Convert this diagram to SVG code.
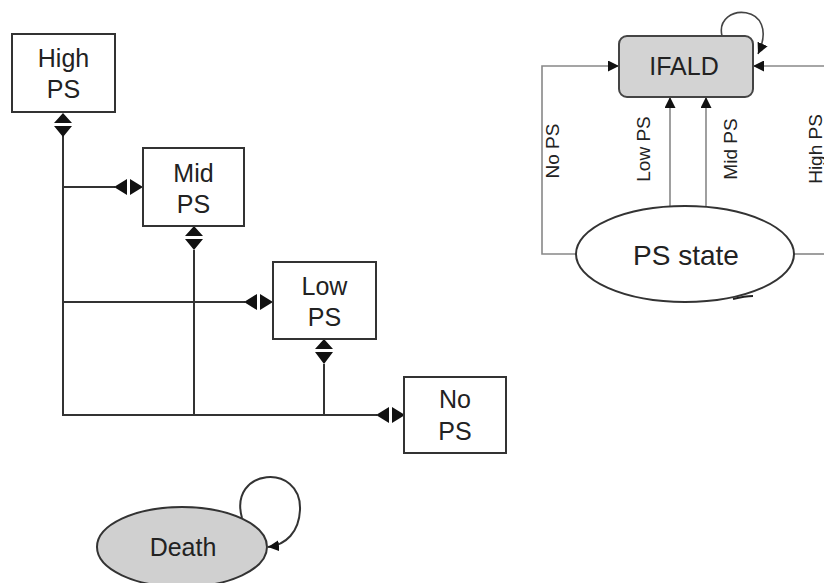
<svg xmlns="http://www.w3.org/2000/svg" width="824" height="583" viewBox="0 0 824 583">
<style>
.box{fill:#fff;stroke:#333;stroke-width:2}
.t{font-family:"Liberation Sans",Arial,sans-serif;fill:#222;text-anchor:middle}
.big{font-size:25px}
.lbl{font-size:19px}
.ln{fill:none;stroke:#333;stroke-width:2}
.gl{fill:none;stroke:#888;stroke-width:1.6}
.ah{fill:#111}
</style>
<defs>
<marker id="arr" viewBox="0 0 10 10" refX="10" refY="5" markerWidth="11" markerHeight="11" markerUnits="userSpaceOnUse" orient="auto">
<path d="M0 0 L10 5 L0 10 Z" fill="#111"/>
</marker>
</defs>
<rect width="824" height="583" fill="#fff"/>

<g id="connectors">
<path class="ln" d="M63 136 V415 H377 M63 187 H115 M194 250 V415 M63 302 H245 M324 364 V415"/>
<path class="ah" d="M63 113 L72 123 L54 123 Z M54 126 L72 126 L63 137 Z"/>
<path class="ah" d="M114 187 L127 179 L127 195 Z M130 179 L143 187 L130 195 Z"/>
<path class="ah" d="M194 226 L203 236 L185 236 Z M185 239 L203 239 L194 250 Z"/>
<path class="ah" d="M244 302 L257 294 L257 310 Z M260 294 L273 302 L260 310 Z"/>
<path class="ah" d="M324 339 L333 349 L315 349 Z M315 352 L333 352 L324 364 Z"/>
<path class="ah" d="M376 415 L389 407 L389 423 Z M392 407 L405 415 L392 423 Z"/>

<path class="gl" d="M576 254 H542 V66 H619" marker-end="url(#arr)"/>
<path class="gl" d="M670 206 V97" marker-end="url(#arr)"/>
<path class="gl" d="M706 207 V97" marker-end="url(#arr)"/>
<path class="gl" d="M824 66 H753" marker-end="url(#arr)"/>
<path class="gl" d="M794 254 H824"/>
<path fill="none" stroke="#444" stroke-width="1.6" d="M722 36 C714 2, 782 2, 758 54" marker-end="url(#arr)"/>
<path fill="none" stroke="#333" stroke-width="2" d="M242 518 C228 468, 302 462, 300 510 C299 532, 286 545, 268 547" marker-end="url(#arr)"/>
<text class="t lbl" transform="translate(559,151) rotate(-90)">No PS</text>
<text class="t lbl" transform="translate(650,149) rotate(-90)">Low PS</text>
<text class="t lbl" transform="translate(737,149) rotate(-90)">Mid PS</text>
<text class="t lbl" transform="translate(822,149) rotate(-90)">High PS</text>
</g>

<g id="high">
<rect class="box" x="12" y="34" width="103" height="78"/>
<text class="t big" x="63.5" y="67">High</text>
<text class="t big" x="63.5" y="98">PS</text>
</g>
<g id="mid">
<rect class="box" x="143" y="148" width="101" height="78"/>
<text class="t big" x="193.5" y="182">Mid</text>
<text class="t big" x="193.5" y="213">PS</text>
</g>
<g id="low">
<rect class="box" x="273" y="262" width="103" height="77"/>
<text class="t big" x="324.5" y="295">Low</text>
<text class="t big" x="324.5" y="326">PS</text>
</g>
<g id="no">
<rect class="box" x="404" y="377" width="102" height="76"/>
<text class="t big" x="455" y="408">No</text>
<text class="t big" x="455" y="440">PS</text>
</g>
<g id="ifald">
<rect x="619" y="36" width="134" height="61" rx="8" fill="#d3d3d3" stroke="#444" stroke-width="2"/>
<text class="t big" x="684" y="75">IFALD</text>
</g>
<g id="psstate">
<ellipse cx="685" cy="254" rx="109" ry="48" fill="#fff" stroke="#333" stroke-width="2"/>
<path d="M733 299 Q745 296 753 296" fill="none" stroke="#222" stroke-width="2"/>
<text class="t" x="686" y="265" font-size="28">PS state</text>
</g>
<g id="death">
<ellipse cx="182" cy="547" rx="85" ry="40" fill="#d0d0d0" stroke="#333" stroke-width="2"/>
<text class="t" x="183" y="556" font-size="25">Death</text>
</g>
</svg>
